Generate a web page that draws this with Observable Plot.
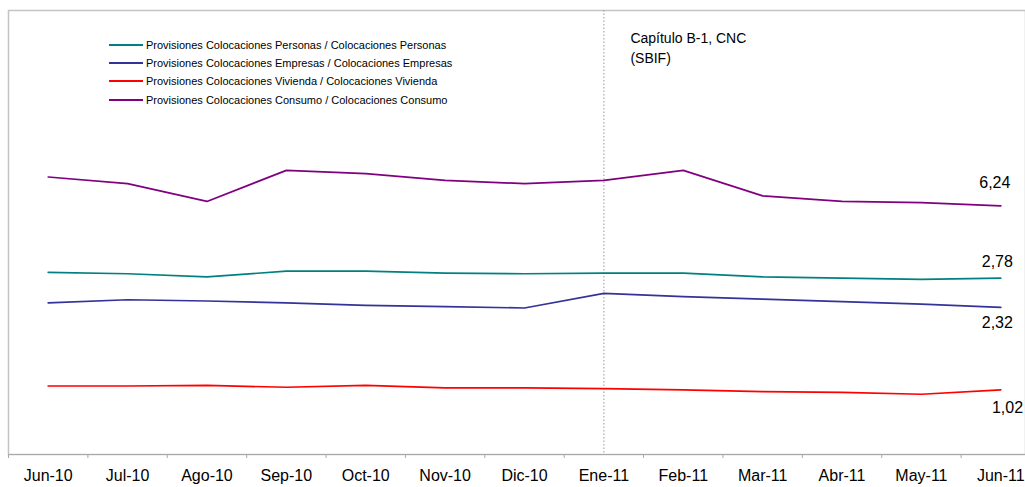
<!DOCTYPE html>
<html>
<head>
<meta charset="utf-8">
<script src="https://cdn.jsdelivr.net/npm/d3@7"></script>
<script src="https://cdn.jsdelivr.net/npm/@observablehq/plot@0.6"></script>
<style>
  body { margin: 0; background: #fff; font-family: Arial, "Liberation Sans", sans-serif; }
  #chart { position: relative; width: 1025px; height: 487px; overflow: hidden; }
  #legend { position: absolute; left: 109px; top: 36px; font-size: 11px; color: #000; }
  #legend .row { display: flex; align-items: center; height: 18.2px; white-space: nowrap; }
  #legend .sw { width: 34px; height: 2px; margin-right: 3px; }
</style>
</head>
<body>
<div id="chart"><div id="legend"></div></div>
<script>
// Months on the category axis
const months = ["Jun-10", "Jul-10", "Ago-10", "Sep-10", "Oct-10", "Nov-10", "Dic-10",
                "Ene-11", "Feb-11", "Mar-11", "Abr-11", "May-11", "Jun-11"];

// Provision ratios (%) per loan type
const personas = [2.87, 2.85, 2.80, 2.89, 2.89, 2.86, 2.85, 2.86, 2.86, 2.80, 2.78, 2.76, 2.78];
const empresas = [2.39, 2.44, 2.42, 2.39, 2.35, 2.33, 2.31, 2.54, 2.49, 2.45, 2.41, 2.37, 2.32];
const vivienda = [1.08, 1.08, 1.09, 1.06, 1.09, 1.05, 1.05, 1.04, 1.02, 0.99, 0.98, 0.95, 1.02];
// Consumer ratio is plotted against a secondary axis
const consumo  = [6.50, 6.44, 6.28, 6.56, 6.53, 6.47, 6.44, 6.47, 6.56, 6.33, 6.28, 6.27, 6.24];

const seriesNames = [
  "Provisiones Colocaciones Personas / Colocaciones Personas",
  "Provisiones Colocaciones Empresas / Colocaciones Empresas",
  "Provisiones Colocaciones Vivienda / Colocaciones Vivienda",
  "Provisiones Colocaciones Consumo / Colocaciones Consumo"
];
const seriesColors = ["#008080", "#333399", "#ff0000", "#800080"];
const seriesValues = [personas, empresas, vivienda, consumo];
const onSecondary = [false, false, false, true];

// Axis ranges: primary 0–7, secondary 4–8
const primaryDomain = [0, 7];
const secondaryDomain = [4, 8];

const breakMonth = "Ene-11";
const annotation = "Capítulo B-1, CNC\n(SBIF)";

// Map secondary-axis values onto the primary axis
const toPrimary = d3.scaleLinear(secondaryDomain, primaryDomain);

const rows = seriesNames.flatMap((name, k) =>
  seriesValues[k].map((v, i) => ({
    serie: name, i, value: v, y: onSecondary[k] ? toPrimary(v) : v
  }))
);

// Offsets of the end-of-line value labels
const labelOffsets = [[-3.5, -16.7], [-3.5, 15.9], [6.7, 17.6], [-6, -22.8]];
const lastIndex = months.length - 1;
const fmt = v => v.toFixed(2).replace(".", ",");

const font = 'Arial, "Liberation Sans", sans-serif';

const chart = Plot.plot({
  width: 1025,
  height: 487,
  marginLeft: 8,
  marginTop: 10,
  marginBottom: 33,
  marginRight: 0,
  style: { fontFamily: font, background: "transparent", overflow: "visible" },
  x: { domain: [-0.5, months.length - 0.5], range: [8, 1040], axis: null, label: null },
  y: { domain: primaryDomain, axis: null, label: null },
  color: { domain: seriesNames, range: seriesColors },
  marks: [
    Plot.frame({ stroke: "#c4c4c4", strokeWidth: 1.5 }),
    Plot.ruleY([0], { stroke: "#a8a8a8", strokeWidth: 1.2 }),
    Plot.ruleX([months.indexOf(breakMonth)], { stroke: "#9a9a9a", strokeDasharray: "1.5,2" }),
    Plot.line(rows, { x: "i", y: "y", z: "serie", stroke: "serie", strokeWidth: 1.7 }),
    ...seriesNames.map((name, k) =>
      Plot.text(rows.filter(d => d.serie === name && d.i === lastIndex), {
        x: "i", y: "y", text: d => fmt(d.value),
        dx: labelOffsets[k][0], dy: labelOffsets[k][1],
        fontSize: 16, fill: "#000"
      })
    ),
    Plot.text([annotation], {
      x: months.indexOf(breakMonth), frameAnchor: "top", text: d => d,
      textAnchor: "start", lineAnchor: "top", dx: 26.5, dy: 18.5,
      fontSize: 14, lineHeight: 1.43, fill: "#000"
    }),
    Plot.axisX({
      ticks: d3.range(months.length + 1).map(i => i - 0.5),
      tickSize: 4, tickFormat: () => "", stroke: "#a8a8a8", label: null
    }),
    Plot.axisX({
      ticks: d3.range(months.length), tickFormat: i => months[i],
      tickSize: 0, tickPadding: 15, fontSize: 16, fill: "#000", label: null
    })
  ]
});

document.getElementById("chart").prepend(chart);

// Legend
const legend = d3.select("#legend");
seriesNames.forEach((name, k) => {
  const row = legend.append("div").attr("class", "row");
  row.append("span").attr("class", "sw").style("background", seriesColors[k]);
  row.append("span").text(name);
});
</script>
</body>
</html>
